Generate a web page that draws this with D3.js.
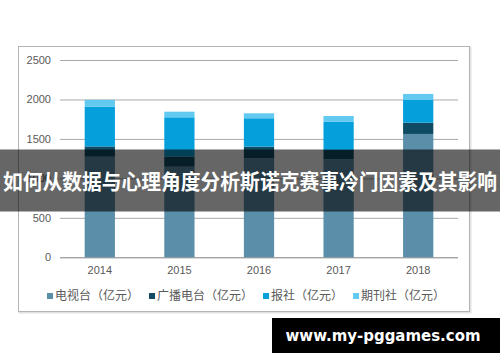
<!DOCTYPE html>
<html>
<head>
<meta charset="utf-8">
<script src="https://cdn.jsdelivr.net/npm/d3@7"></script>
<style>
  body { margin: 0; background: #fff; }
  svg { display: block; }
</style>
</head>
<body>
<svg id="chart" width="500" height="362"></svg>
<script>
// data
const years = ["2014", "2015", "2016", "2017", "2018"];
const tv = [1275, 1148, 1255, 1242, 1563];
const radio = [130, 127, 147, 118, 143];
const paper = [505, 499, 360, 359, 288];
const magazine = [85, 71, 63, 71, 76];
const seriesNames = ["电视台（亿元）", "广播电台（亿元）", "报社（亿元）", "期刊社（亿元）"];
const yTicks = [0, 500, 1000, 1500, 2000, 2500];
const title = "如何从数据与心理角度分析斯诺克赛事冷门因素及其影响";
const watermark = "www.my-pggames.com";

const colors = ["#5b8ea8", "#0f4b62", "#05a0db", "#62c9f1"];
const seriesValues = [tv, radio, paper, magazine];

const svg = d3.select("#chart");
const margin = {top: 60, right: 42, bottom: 105, left: 60};
const width = 500, height = 362;

// frame around the chart
svg.append("rect")
    .attr("x", 19.5).attr("y", 47.5)
    .attr("width", 451).attr("height", 265)
    .attr("fill", "none")
    .attr("stroke", "#e2e2e2").attr("stroke-width", 2);
svg.append("rect")
    .attr("x", 18.5).attr("y", 46.5)
    .attr("width", 451).attr("height", 265)
    .attr("fill", "#fff")
    .attr("stroke", "#b4b4b4");

const x = d3.scaleBand()
    .domain(years)
    .range([margin.left, 458])
    .paddingInner(0.62).paddingOuter(0.31);

const y = d3.scaleLinear()
    .domain([0, 2500])
    .range([257.3, margin.top]);

// grid lines + y labels
const yAxis = g => g
    .attr("transform", `translate(${margin.left},0)`)
    .call(d3.axisLeft(y).tickValues(yTicks).tickFormat(d3.format("d"))
        .tickSize(-(458 - margin.left)).tickPadding(9))
    .call(g => g.select(".domain").remove())
    .call(g => g.selectAll(".tick line").attr("stroke", d => d === 0 ? "#7f7f7f" : "#a9a9a9"))
    .call(g => g.selectAll(".tick text")
        .attr("fill", "#595959")
        .attr("font-family", "Liberation Sans, Arial, sans-serif")
        .attr("font-size", 11));
svg.append("g").call(yAxis);

// stacked bars
const table = years.map((yr, i) => {
    const row = {year: yr};
    seriesNames.forEach((s, k) => row[s] = seriesValues[k][i]);
    return row;
});
const stacked = d3.stack().keys(seriesNames)(table);

svg.append("g")
    .selectAll("g").data(stacked).enter().append("g")
    .attr("fill", (d, i) => colors[i])
    .selectAll("rect").data(d => d).enter().append("rect")
    .attr("x", d => x(d.data.year))
    .attr("y", d => y(d[1]))
    .attr("height", d => y(d[0]) - y(d[1]))
    .attr("width", x.bandwidth());

// x labels
const xAxis = g => g
    .attr("transform", `translate(0,${y(0)})`)
    .call(d3.axisBottom(x).tickSize(0).tickPadding(9))
    .call(g => g.select(".domain").remove())
    .call(g => g.selectAll(".tick text")
        .attr("fill", "#595959")
        .attr("font-family", "Liberation Sans, Arial, sans-serif")
        .attr("font-size", 11));
svg.append("g").call(xAxis);

// legend
const legend = svg.append("g").attr("transform", "translate(47,296)");
let lx = 0;
seriesNames.forEach((name, i) => {
    const item = legend.append("g").attr("transform", `translate(${lx},0)`);
    item.append("rect")
        .attr("x", 0).attr("y", -3)
        .attr("width", 6).attr("height", 6)
        .attr("fill", colors[i]);
    const t = item.append("text")
        .attr("x", 8).attr("dy", "0.36em")
        .attr("fill", "#595959")
        .attr("font-family", "Noto Sans CJK SC, sans-serif")
        .attr("font-size", 12)
        .text(name);
    lx += 8 + t.node().getComputedTextLength() + 10;
});

// title banner over the chart
svg.append("rect")
    .attr("x", 0).attr("y", 149.5)
    .attr("width", width).attr("height", 62)
    .attr("fill", "#000").attr("opacity", 0.6);
svg.append("text")
    .attr("x", width / 2).attr("y", 181)
    .attr("text-anchor", "middle").attr("dy", "0.36em")
    .attr("fill", "#fff")
    .attr("font-family", "Noto Sans CJK SC, sans-serif")
    .attr("font-weight", "bold")
    .attr("font-size", 21)
    .attr("textLength", 494).attr("lengthAdjust", "spacingAndGlyphs")
    .text(title);

// watermark
svg.append("rect")
    .attr("x", 272).attr("y", 318)
    .attr("width", 228).attr("height", 35)
    .attr("fill", "#000");
svg.append("text")
    .attr("x", 383).attr("y", 335.5)
    .attr("text-anchor", "middle").attr("dy", "0.36em")
    .attr("fill", "#fff")
    .attr("font-family", "DejaVu Sans, sans-serif")
    .attr("font-weight", "bold")
    .attr("font-size", 15)
    .attr("textLength", 195).attr("lengthAdjust", "spacingAndGlyphs")
    .text(watermark);
</script>
</body>
</html>
